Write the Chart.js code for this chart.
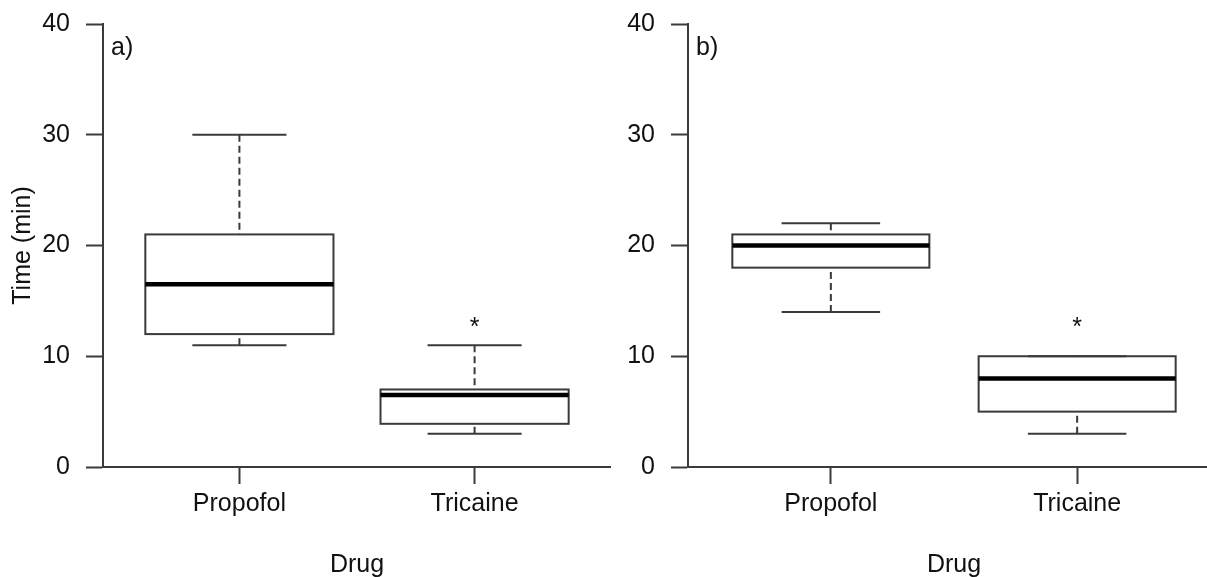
<!DOCTYPE html>
<html>
<head>
<meta charset="utf-8">
<script src="https://cdn.jsdelivr.net/npm/chart.js@4.4.0/dist/chart.umd.min.js"></script>
<style>
  html, body { margin: 0; padding: 0; background: #fff; overflow: hidden; }
  body { width: 1207px; height: 577px; position: relative; }
  .panel { position: absolute; top: 0; height: 577px; }
  #wrapA { left: 0; width: 611px; }
  #wrapB { left: 611px; width: 609px; }
</style>
</head>
<body>
<div class="panel" id="wrapA"><canvas id="chartA"></canvas></div>
<div class="panel" id="wrapB"><canvas id="chartB"></canvas></div>
<script>
const drugs = ['Propofol', 'Tricaine'];
const yTicks = [0, 10, 20, 30, 40];

// a) whisker low, Q1, median, Q3, whisker high
const minA = [11, 3];
const q1A  = [12, 3.9];
const medA = [16.5, 6.5];
const q3A  = [21, 7];
const maxA = [30, 11];
const starA = [null, 12.5];

// b)
const minB = [14, 3];
const q1B  = [18, 5];
const medB = [20, 8];
const q3B  = [21, 10];
const maxB = [22, 10];
const starB = [null, 12.5];

const FONT = "'Liberation Sans', Arial, sans-serif";
const INK = '#111';
const LINE = '#3a3a3a';

// 箱线图绘制插件
const boxPlugin = {
  id: 'boxes',
  afterDatasetsDraw(chart, args, o) {
    const { ctx, chartArea } = chart;
    const x = chart.scales.x, y = chart.scales.y;
    const seg = (x1, y1, x2, y2) => {
      ctx.beginPath(); ctx.moveTo(x1, y1); ctx.lineTo(x2, y2); ctx.stroke();
    };
    ctx.save();
    o.med.forEach((m, i) => {
      const cx = x.getPixelForValue(i + 1);
      const hw = x.getPixelForValue(i + 1.4) - cx;
      const cw = hw / 2;
      const pMin = y.getPixelForValue(o.min[i]);
      const pQ1 = y.getPixelForValue(o.q1[i]);
      const pMed = y.getPixelForValue(m);
      const pQ3 = y.getPixelForValue(o.q3[i]);
      const pMax = y.getPixelForValue(o.max[i]);

      ctx.strokeStyle = LINE;
      ctx.lineWidth = 2;
      ctx.setLineDash([7, 4]);
      seg(cx, pMin, cx, pQ1);
      seg(cx, pMax, cx, pQ3);
      ctx.setLineDash([]);
      seg(cx - cw, pMin, cx + cw, pMin);
      seg(cx - cw, pMax, cx + cw, pMax);
      ctx.strokeRect(cx - hw, pQ3, hw * 2, pQ1 - pQ3);

      ctx.strokeStyle = '#000';
      ctx.lineWidth = 4.5;
      seg(cx - hw, pMed, cx + hw, pMed);

      if (o.star[i] != null) {
        ctx.fillStyle = INK;
        ctx.font = '25px ' + FONT;
        ctx.textAlign = 'center';
        ctx.textBaseline = 'middle';
        ctx.fillText('*', cx, y.getPixelForValue(o.star[i]));
      }
    });
    ctx.fillStyle = INK;
    ctx.font = '25px ' + FONT;
    ctx.textAlign = 'left';
    ctx.textBaseline = 'middle';
    ctx.fillText(o.tag, chartArea.left + 8, chartArea.top + 24);
    ctx.restore();
  }
};

function makeChart(id, stats, axisW, showTitle) {
  return new Chart(document.getElementById(id), {
    type: 'scatter',
    data: { datasets: [{ data: [], pointRadius: 0 }] },
    plugins: [boxPlugin],
    options: {
      responsive: true,
      maintainAspectRatio: false,
      animation: false,
      layout: { padding: { top: 24, left: 0, right: 0, bottom: 0 } },
      plugins: {
        legend: { display: false },
        tooltip: { enabled: false },
        boxes: stats
      },
      scales: {
        x: {
          type: 'linear', min: 0.42, max: 2.58,
          afterBuildTicks: s => { s.ticks = drugs.map((d, i) => ({ value: i + 1 })); },
          afterFit: s => { s.height = 110; s.paddingLeft = 0; s.paddingRight = 0; },
          grid: { drawOnChartArea: false, drawTicks: true, tickLength: 17, tickWidth: 2, tickColor: LINE },
          border: { display: true, color: LINE, width: 2 },
          ticks: {
            color: INK, font: { family: FONT, size: 25 }, padding: 5,
            maxRotation: 0, autoSkip: false,
            callback: (v, i) => drugs[i]
          },
          title: { display: true, text: 'Drug', color: INK, font: { family: FONT, size: 25, lineHeight: 0.8 }, padding: { top: 0, bottom: 2 } }
        },
        y: {
          min: 0, max: 40,
          afterBuildTicks: s => { s.ticks = yTicks.map(v => ({ value: v })); },
          afterFit: s => { s.width = axisW; s.paddingTop = 0; s.paddingBottom = 0; },
          grid: { drawOnChartArea: false, drawTicks: true, tickLength: 17, tickWidth: 2, tickColor: LINE },
          border: { display: true, color: LINE, width: 2 },
          ticks: { color: INK, font: { family: FONT, size: 25 }, padding: 16 },
          title: { display: showTitle, text: 'Time (min)', color: INK, font: { family: FONT, size: 25 }, padding: { top: 8, bottom: 0 } }
        }
      }
    }
  });
}

makeChart('chartA', { min: minA, q1: q1A, med: medA, q3: q3A, max: maxA, star: starA, tag: 'a)' }, 103, true);
makeChart('chartB', { min: minB, q1: q1B, med: medB, q3: q3B, max: maxB, star: starB, tag: 'b)' }, 77, false);
</script>
</body>
</html>
